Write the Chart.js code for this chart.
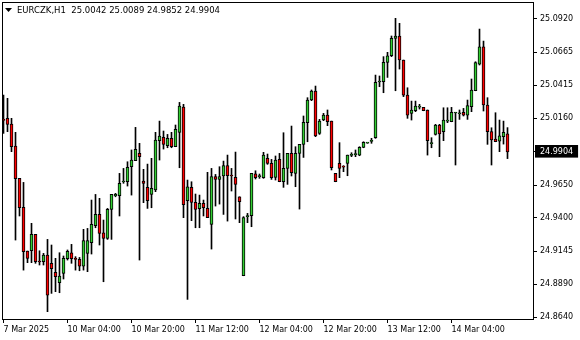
<!DOCTYPE html>
<html>
<head>
<meta charset="utf-8">
<script src="https://cdn.jsdelivr.net/npm/chart.js@4/dist/chart.umd.min.js"></script>
<style>
    html, body { margin: 0; padding: 0; background: #fff; }
    #chart { display: block; }
</style>
</head>
<body>
<canvas id="chart" width="580" height="340"></canvas>
<script>
// ============================================================
// EURCZK H1 candles, MetaTrader look
// ============================================================

var symbol = 'EURCZK,H1';

var opens = [
    25.0150, 25.0160, 25.0117, 24.9948, 24.9701, 24.9479, 24.9145, 24.9147, 24.9272, 24.9066,
    24.9063, 24.9114, 24.9051, 24.8982, 24.8903, 24.8974, 24.9086, 24.9132, 24.9089, 24.9081,
    24.9030, 24.9127, 24.9209, 24.9339, 24.9425, 24.9285, 24.9242, 24.9464, 24.9568, 24.9568,
    24.9673, 24.9675, 24.9790, 24.9836, 24.9892, 24.9680, 24.9632, 24.9578, 24.9612, 24.9989,
    25.0014, 24.9951, 25.0007, 24.9943, 25.0053, 25.0246, 24.9530, 24.9632, 24.9517, 24.9469,
    24.9510, 24.9471, 24.9349, 24.9714, 24.9693, 24.9719, 24.9798, 24.9721, 24.9708, 24.9560,
    24.8956, 24.9408, 24.9415, 24.9736, 24.9714, 24.9706, 24.9854, 24.9816, 24.9708, 24.9846,
    24.9675, 24.9777, 24.9892, 24.9739, 24.9892, 24.9961, 25.0127, 25.0300, 25.0369, 25.0045,
    25.0147, 25.0185, 25.0139, 24.9739, 24.9816, 24.9790, 24.9816, 24.9877, 24.9882, 24.9879,
    24.9938, 24.9971, 24.9984, 25.0012, 25.0438, 25.0440, 25.0588, 25.0639, 25.0772, 25.0790,
    25.0606, 25.0338, 25.0198, 25.0218, 25.0246, 25.0244, 25.0224, 24.9966, 25.0037, 25.0109,
    25.0058, 25.0139, 25.0134, 25.0201, 25.0195, 25.0206, 25.0185, 25.0249, 25.0371, 25.0575,
    25.0708, 25.0262, 25.0058, 25.0002, 24.9986, 25.0020, 25.0042
];
var highs = [
    25.0338, 25.0313, 25.0160, 25.0053, 24.9701, 24.9670, 24.9145, 24.9357, 24.9272, 24.9147,
    24.9127, 24.9234, 24.9191, 24.9089, 24.9132, 24.9107, 24.9153, 24.9196, 24.9102, 24.9096,
    24.9311, 24.9318, 24.9535, 24.9578, 24.9548, 24.9382, 24.9471, 24.9578, 24.9586, 24.9739,
    24.9777, 24.9828, 24.9918, 25.0091, 24.9969, 24.9770, 24.9810, 24.9854, 25.0053, 25.0139,
    25.0063, 25.0037, 25.0053, 25.0109, 25.0282, 25.0267, 24.9688, 24.9675, 24.9581, 24.9573,
    24.9535, 24.9747, 24.9777, 24.9731, 24.9790, 24.9833, 24.9879, 24.9777, 24.9902, 24.9560,
    24.9408, 24.9433, 24.9739, 24.9759, 24.9734, 24.9900, 24.9887, 24.9846, 24.9872, 24.9892,
    25.0050, 24.9892, 25.0101, 24.9943, 24.9961, 25.0178, 25.0318, 25.0377, 25.0407, 25.0152,
    25.0198, 25.0224, 25.0139, 24.9739, 24.9974, 24.9798, 24.9879, 24.9897, 24.9918, 24.9943,
    24.9981, 24.9976, 25.0007, 25.0491, 25.0484, 25.0632, 25.0665, 25.0790, 25.0925, 25.0887,
    25.0606, 25.0394, 25.0292, 25.0292, 25.0267, 25.0244, 25.0224, 25.0012, 25.0114, 25.0114,
    25.0241, 25.0241, 25.0244, 25.0206, 25.0224, 25.0236, 25.0300, 25.0461, 25.0593, 25.0843,
    25.0751, 25.0318, 25.0088, 25.0203, 25.0147, 25.0139, 25.0089
];
var lows = [
    25.0045, 25.0058, 24.9905, 24.9229, 24.9413, 24.8999, 24.9056, 24.9056, 24.9051, 24.9038,
    24.9038, 24.8681, 24.8821, 24.8834, 24.8826, 24.8931, 24.9076, 24.9051, 24.8999, 24.8994,
    24.8999, 24.8987, 24.9122, 24.9323, 24.9191, 24.8910, 24.9234, 24.9234, 24.9560, 24.9413,
    24.9663, 24.9642, 24.9573, 24.9836, 24.9076, 24.9515, 24.9471, 24.9476, 24.9599, 24.9841,
    24.9925, 24.9935, 24.9935, 24.9943, 24.9782, 24.9400, 24.8775, 24.9377, 24.9323, 24.9323,
    24.9413, 24.9400, 24.9160, 24.9489, 24.9504, 24.9425, 24.9374, 24.9604, 24.9390, 24.9362,
    24.8956, 24.9362, 24.9331, 24.9696, 24.9701, 24.9701, 24.9808, 24.9693, 24.9688, 24.9675,
    24.9632, 24.9655, 24.9719, 24.9637, 24.9466, 24.9861, 24.9981, 25.0295, 25.0020, 25.0037,
    25.0142, 25.0104, 24.9765, 24.9675, 24.9706, 24.9752, 24.9721, 24.9867, 24.9867, 24.9874,
    24.9935, 24.9969, 24.9969, 25.0007, 25.0402, 25.0356, 25.0473, 25.0632, 25.0371, 25.0537,
    25.0326, 25.0160, 25.0147, 25.0211, 25.0231, 25.0218, 24.9879, 24.9935, 25.0032, 24.9867,
    24.9989, 25.0127, 25.0134, 24.9803, 25.0152, 25.0178, 25.0152, 25.0211, 25.0371, 25.0568,
    25.0216, 24.9961, 24.9803, 24.9981, 24.9905, 24.9963, 24.9852
];
var closes = [
    25.0144, 25.0114, 24.9943, 24.9698, 24.9476, 24.9140, 24.9089, 24.9272, 24.9063, 24.9061,
    24.9114, 24.8808, 24.9010, 24.8949, 24.8954, 24.9089, 24.9142, 24.9086, 24.9081, 24.9030,
    24.9224, 24.9224, 24.9349, 24.9425, 24.9280, 24.9242, 24.9464, 24.9578, 24.9578, 24.9663,
    24.9680, 24.9785, 24.9841, 24.9923, 24.9867, 24.9663, 24.9530, 24.9624, 24.9994, 25.0025,
    24.9961, 25.0007, 24.9943, 25.0076, 25.0254, 24.9499, 24.9637, 24.9517, 24.9464, 24.9510,
    24.9476, 24.9400, 24.9714, 24.9693, 24.9714, 24.9798, 24.9721, 24.9719, 24.9655, 24.9522,
    24.9400, 24.9413, 24.9739, 24.9706, 24.9716, 24.9879, 24.9816, 24.9706, 24.9841, 24.9675,
    24.9777, 24.9892, 24.9744, 24.9892, 24.9961, 25.0129, 25.0300, 25.0369, 25.0025, 25.0139,
    25.0185, 25.0134, 24.9782, 24.9675, 24.9777, 24.9787, 24.9879, 24.9879, 24.9884, 24.9938,
    24.9976, 24.9974, 24.9986, 25.0435, 25.0440, 25.0588, 25.0639, 25.0772, 25.0790, 25.0606,
    25.0338, 25.0185, 25.0224, 25.0254, 25.0249, 25.0218, 24.9989, 24.9969, 25.0109, 25.0040,
    25.0147, 25.0142, 25.0206, 25.0203, 25.0198, 25.0185, 25.0257, 25.0377, 25.0586, 25.0708,
    25.0262, 25.0058, 24.9994, 24.9981, 25.0027, 25.0053, 24.9904
];

// time axis: bar index -> label
var timeTickIdx = [0, 16, 32, 48, 64, 80, 96, 112];
var timeTickText = ['7 Mar 2025', '10 Mar 04:00', '10 Mar 20:00', '11 Mar 12:00',
                    '12 Mar 04:00', '12 Mar 20:00', '13 Mar 12:00', '14 Mar 04:00'];

// price axis
var priceTicks = [25.0920, 25.0665, 25.0415, 25.0160, 24.9650, 24.9400, 24.9145, 24.8890, 24.8640];
var priceMin = 24.8625;
var priceMax = 25.1050;

// visible bar window (a little chart shift on the right)
var barMin = -0.375;
var barMax = 132.375;

var last = closes.length - 1;
var lastClose = closes[last];

// Build candle pieces
var bodies = [];
var wicks = [];
var fills = [];
for (var i = 0; i < closes.length; i++) {
    bodies.push({ x: i, y: [opens[i], closes[i]] });
    wicks.push({ x: i, y: [lows[i], highs[i]] });
    fills.push(closes[i] >= opens[i] ? '#32cd32' : '#ff0000');
}

var FONT = 'DejaVu Sans';

var frame = {
    id: 'frame',
    beforeDraw: function(chart) {
        var ctx = chart.ctx;
        ctx.save();
        ctx.fillStyle = '#fff';
        ctx.fillRect(0, 0, chart.width, chart.height);
        ctx.restore();
    },
    afterDraw: function(chart) {
        var ctx = chart.ctx;
        var a = chart.chartArea;
        ctx.save();
        ctx.strokeStyle = '#000';
        ctx.lineWidth = 1;
        ctx.strokeRect(a.left + 0.5, a.top + 0.5, a.right - a.left, a.bottom - a.top);

        // header: little triangle + symbol + OHLC of last bar
        ctx.fillStyle = '#000';
        ctx.beginPath();
        ctx.moveTo(5, 8);
        ctx.lineTo(12, 8);
        ctx.lineTo(8.5, 12);
        ctx.closePath();
        ctx.fill();
        ctx.font = '8.5px "' + FONT + '"';
        ctx.textBaseline = 'middle';
        ctx.fillText(symbol + '  ' + opens[last].toFixed(4) + ' ' + highs[last].toFixed(4) + ' ' +
            lows[last].toFixed(4) + ' ' + closes[last].toFixed(4), 17, 10.5);
        ctx.restore();
    }
};

new Chart(document.getElementById('chart'), {
    type: 'bar',
    data: {
        datasets: [
            {
                label: 'body',
                data: bodies,
                backgroundColor: fills,
                borderColor: '#000',
                borderWidth: 1,
                borderSkipped: false,
                barThickness: 3,
                minBarLength: 1,
                grouped: false,
                order: 0
            },
            {
                label: 'wick',
                data: wicks,
                backgroundColor: '#000',
                borderWidth: 0,
                barThickness: 1,
                grouped: false,
                order: 1
            }
        ]
    },
    options: {
        responsive: false,
        devicePixelRatio: 1,
        animation: false,
        layout: { padding: { left: 2, top: 2, right: 0, bottom: 0 } },
        plugins: {
            legend: { display: false },
            tooltip: { enabled: false }
        },
        scales: {
            x: {
                type: 'linear',
                bounds: 'data',
                offset: false,
                min: barMin,
                max: barMax,
                afterDataLimits: function(s) {
                    s.min = barMin;
                    s.max = barMax;
                },
                afterBuildTicks: function(s) {
                    s.min = barMin;
                    s.max = barMax;
                    s.ticks = timeTickIdx.map(function(v) { return { value: v }; });
                },
                afterFit: function(s) {
                    s.height = 21;
                    s.paddingLeft = 0;
                    s.paddingRight = 0;
                },
                ticks: {
                    autoSkip: false,
                    maxRotation: 0,
                    align: 'start',
                    padding: 2,
                    color: '#000',
                    font: { family: FONT, size: 8 },
                    callback: function(v) { return timeTickText[timeTickIdx.indexOf(v)]; }
                },
                grid: { offset: false, drawOnChartArea: false, drawTicks: true, tickLength: 4, color: '#000' },
                border: { color: '#000' }
            },
            y: {
                position: 'right',
                min: priceMin,
                max: priceMax,
                afterBuildTicks: function(s) {
                    s.ticks = priceTicks.concat([lastClose]).map(function(v) { return { value: v }; });
                },
                afterFit: function(s) {
                    s.width = 47;
                    s.paddingTop = 0;
                    s.paddingBottom = 0;
                },
                ticks: {
                    padding: 3,
                    font: { family: FONT, size: 8 },
                    color: function(c) { return c.tick && c.tick.value === lastClose ? '#fff' : '#000'; },
                    showLabelBackdrop: function(c) { return !!(c.tick && c.tick.value === lastClose); },
                    backdropColor: '#000',
                    backdropPadding: { left: 5, right: 5, top: 2, bottom: 1 },
                    callback: function(v) { return Number(v).toFixed(4); }
                },
                grid: { drawOnChartArea: false, drawTicks: true, tickLength: 4, color: '#000' },
                border: { color: '#000' }
            }
        }
    },
    plugins: [frame]
});
</script>
</body>
</html>
